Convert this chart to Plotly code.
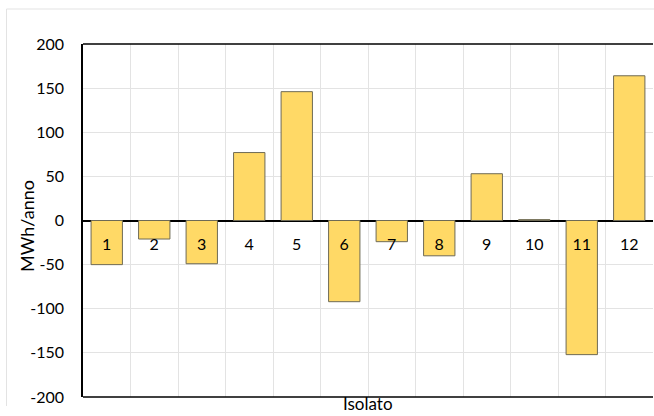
import plotly.graph_objects as go

categories = ["1", "2", "3", "4", "5", "6", "7", "8", "9", "10", "11", "12"]
values = [-50, -21, -49, 77, 146, -92, -24, -40, 53, 1, -152, 164]
y_ticks = [-200, -150, -100, -50, 0, 50, 100, 150, 200]
y_title = "MWh/anno"
x_title = "Isolato"

FONT = "Lato"
W, H = 654, 416
L, R, T, B = 83, 1, 44, 19
pw = W - L - R
ph = H - T - B

fig = go.Figure()
fig.add_trace(go.Bar(
    x=categories, y=values,
    marker=dict(color="#FFD966", line=dict(color="#6e6a55", width=1)),
    width=0.66,
))

def px_x(p):
    return (p - L) / pw

def px_y(p):
    return (H - B - p) / ph

fig.update_layout(
    width=W, height=H,
    margin=dict(l=L, r=R, t=T, b=B),
    paper_bgcolor="white", plot_bgcolor="white",
    showlegend=False,
    font=dict(family=FONT, size=16, color="#000000"),
    xaxis=dict(
        type="category", anchor="free", position=0.5,
        tickson="boundaries", showgrid=True, gridcolor="#e3e3e3", gridwidth=1,
        ticks="", ticklabelstandoff=12, showline=False, zeroline=False,
        tickfont=dict(family=FONT, size=16, color="#000000"),
    ),
    yaxis=dict(
        range=[-200, 200], tickvals=y_ticks, ticktext=[str(v) for v in y_ticks],
        showgrid=True, gridcolor="#e3e3e3", gridwidth=1,
        zeroline=True, zerolinecolor="#000000", zerolinewidth=1.5,
        showline=True, linecolor="#000000", linewidth=1.5,
        ticks="", ticklabelstandoff=14,
        tickfont=dict(family=FONT, size=16, color="#000000"),
    ),
    shapes=[
        dict(type="line", xref="paper", yref="paper", x0=0, x1=1, y0=1, y1=1,
             line=dict(color="#000000", width=1.5)),
        dict(type="line", xref="paper", yref="paper", x0=0, x1=1, y0=0, y1=0,
             line=dict(color="#000000", width=1.5)),
        dict(type="line", xref="paper", yref="paper", x0=px_x(6.5), x1=px_x(700), y0=px_y(9), y1=px_y(9),
             line=dict(color="#e3e3e3", width=1)),
        dict(type="line", xref="paper", yref="paper", x0=px_x(6.5), x1=px_x(6.5), y0=px_y(9), y1=px_y(406),
             line=dict(color="#e3e3e3", width=1)),
    ],
    annotations=[
        dict(text=y_title, xref="paper", yref="paper", x=px_x(27), y=px_y(226),
             textangle=-90, showarrow=False, xanchor="center", yanchor="middle",
             font=dict(family=FONT, size=18, color="#000000")),
        dict(text=x_title, xref="paper", yref="paper", x=px_x(368), y=px_y(415),
             showarrow=False, xanchor="center", yanchor="bottom",
             font=dict(family=FONT, size=17, color="#000000"), borderpad=0),
    ],
)

fig.write_html(
    "out.html",
    config={"displayModeBar": False},
    post_script="document.body.style.margin='0';document.body.style.overflow='hidden';",
)
